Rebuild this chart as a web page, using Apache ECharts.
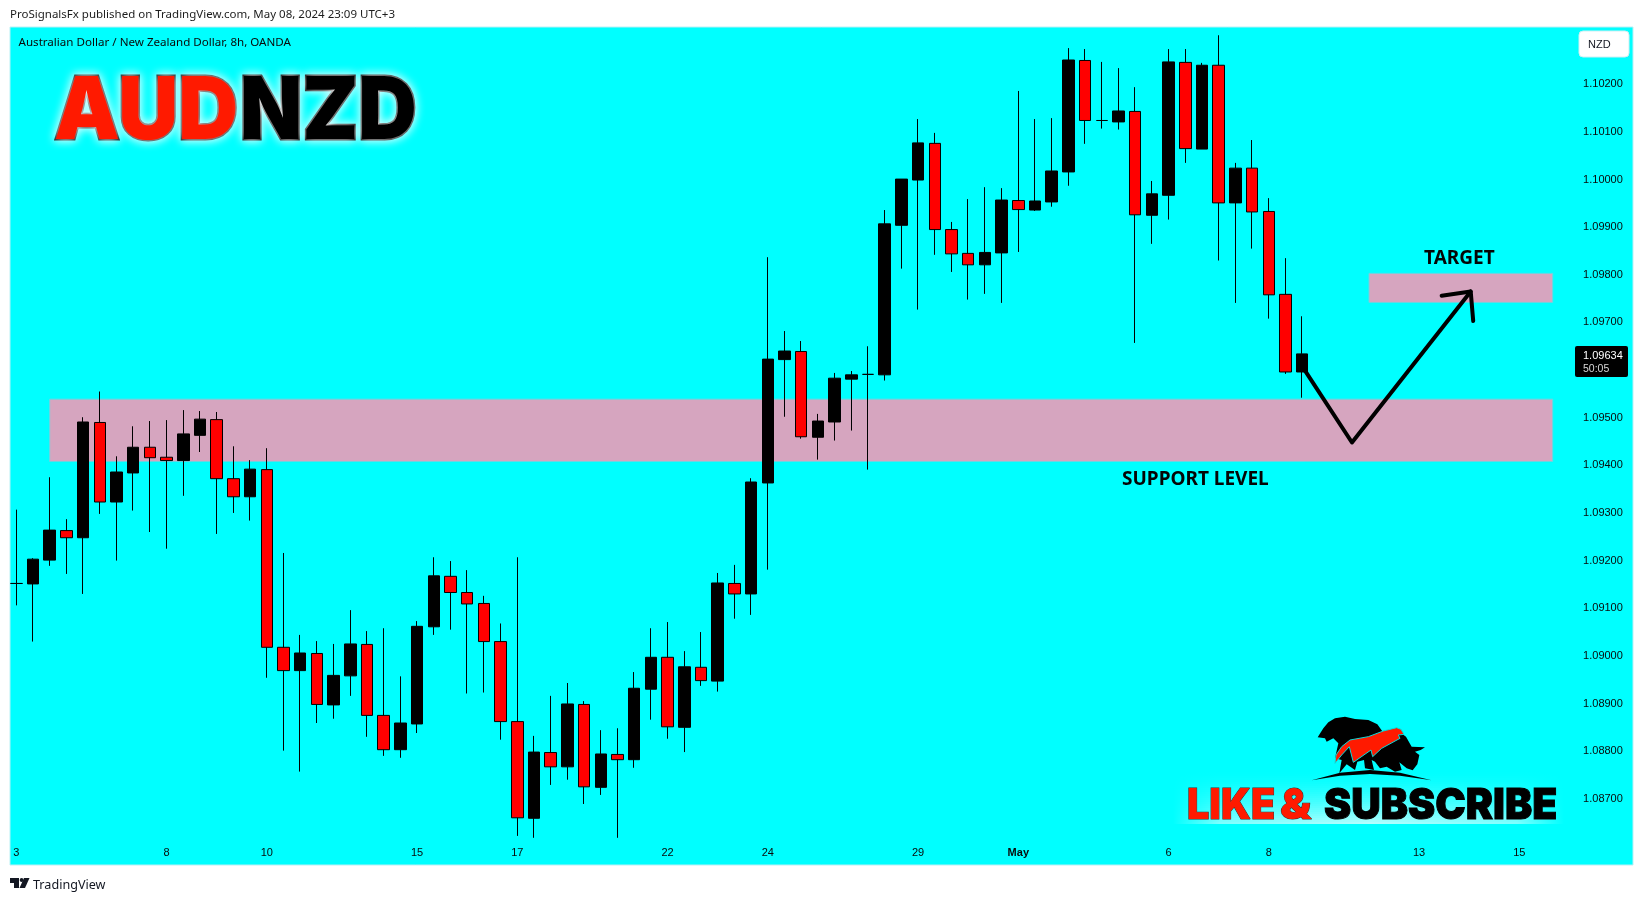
<!DOCTYPE html>
<html><head><meta charset="utf-8">
<style>html,body{margin:0;padding:0;background:#fff}#c{width:1643px;height:901px}</style>
<script src="https://cdn.jsdelivr.net/npm/echarts@6/dist/echarts.min.js"></script>
</head><body><div id="c"></div>
<script>
// Prices in 1/100000 units
const opens=[109152,109151,109201,109263,109248,109490,109323,109384,109438,109417,109410,109463,109496,109372,109334,109391,109018,108969,109005,108897,108958,109024,108875,108803,108857,109061,109167,109133,109110,109030,108862,108659,108797,108767,108898,108724,108793,108782,108930,108997,108850,108976,108947,109152,109130,109363,109622,109639,109459,109491,109581,109591,109590,109904,109999,110076,109895,109845,109821,109846,109956,109936,109953,110016,110250,110124,110121,110143,109925,109967,110246,110064,110240,109951,110024,109933,109759,109596];
const closes=[109152,109203,109264,109248,109491,109323,109386,109438,109416,109410,109466,109497,109372,109334,109392,109018,108969,109006,108898,108959,109025,108875,108803,108859,109062,109168,109133,109109,109030,108862,108660,108798,108767,108899,108725,108794,108782,108932,108997,108851,108977,108948,109153,109130,109365,109623,109640,109460,109493,109583,109590,109591,109907,110001,110077,109895,109844,109821,109847,109957,109937,109955,110018,110251,110124,110124,110144,109926,109970,110247,110065,110240,109951,110024,109932,109758,109596,109634];
const lows=[109106,109030,109189,109172,109130,109298,109200,109305,109260,109225,109336,109428,109256,109300,109284,108954,108801,108757,108859,108868,108916,108830,108790,108786,108838,109044,109055,108921,108923,108824,108622,108618,108729,108740,108689,108708,108618,108765,108866,108826,108798,108937,108925,109078,109086,109181,109502,109456,109412,109452,109473,109391,109578,109813,109727,109842,109806,109748,109760,109741,109848,109934,109943,109987,110075,110107,110105,109657,109865,109916,110035,110064,109830,109741,109855,109708,109592,109542];
const highs=[109307,109205,109375,109287,109501,109555,109419,109482,109493,109495,109516,109514,109512,109440,109411,109436,109216,109044,109031,109025,109096,109052,109058,108957,109073,109207,109199,109180,109126,109068,109207,108832,108916,108943,108905,108844,108848,108966,109058,109071,109010,109050,109174,109191,109373,109837,109682,109661,109508,109594,109598,109650,109936,110001,110127,110098,109911,109959,109984,109982,110186,110127,110129,110276,110274,110247,110234,110194,109997,110274,110274,110245,110303,110035,110083,109961,109835,109713];
const slotCount=97;
const dateTickIndex=[0,9,15,24,30,39,45,54,60,69,75,84,90];
const dateTickLabel=['3','8','10','15','17','22','24','29','May','6','8','13','15'];
const priceTicks=[1.102,1.101,1.1,1.099,1.098,1.097,1.095,1.094,1.093,1.092,1.091,1.09,1.089,1.088,1.087];
const supportZone=[1.09539,1.09408], supportFrom=2, supportTo=92;
const targetZone=[1.09803,1.09742], targetFrom=81, targetTo=92;
const pathX=[77.07,79.98,87.09], pathY=[1.09604,1.09448,1.09765];
const headX=[85.35,87.09,87.24], headY=[1.09756,1.09765,1.09703];
const lastPrice='1.09634', countdown='50:05';

const categories=Array.from({length:slotCount},(_,i)=>String(i));
const labelAt={};dateTickIndex.forEach((k,i)=>labelAt[k]=dateTickLabel[i]);
const candles=opens.map((o,i)=>[o/1e5,closes[i]/1e5,lows[i]/1e5,highs[i]/1e5]);
const zip=(a,b)=>a.map((v,i)=>[v,b[i]]);

const chart=echarts.init(document.getElementById('c'),null,{renderer:'canvas'});
const sans='"Noto Sans",sans-serif', tick='"Liberation Sans",Arial,sans-serif', heavy='Inter,"Liberation Sans",sans-serif';
const RED='#ff1a00', ZONE='#d6a5bf';
const arrowLine={type:'line',xAxisIndex:1,yAxisIndex:0,showSymbol:false,silent:true,z:6,
  lineStyle:{color:'#000',width:4,cap:'round',join:'round'},animation:false};
const poly=(pts,style,z)=>({type:'polygon',silent:true,z:z||50,shape:{points:pts},style});

// soft glow behind the subscribe banner, built from thin rows
const glow=[];
for(let r=0;r<26;r++){
  const a=0.7*Math.pow((r+1)/26,1.6);
  glow.push({type:'rect',silent:true,z:-9,shape:{x:1173,y:772+r*2,width:391,height:2},
    style:{fill:new echarts.graphic.LinearGradient(0,0,1,0,[{offset:0,color:'rgba(255,255,255,0)'},{offset:0.12,color:'rgba(255,255,255,'+a*0.7+')'},{offset:0.5,color:'rgba(255,255,255,'+a+')'},{offset:0.88,color:'rgba(255,255,255,'+a*0.7+')'},{offset:1,color:'rgba(255,255,255,0)'}])}});
}

chart.setOption({
  animation:false,
  backgroundColor:'#fff',
  grid:{left:7.95,right:15.15,top:27,bottom:36,containLabel:false},
  xAxis:[{type:'category',data:categories,boundaryGap:true,
    axisLine:{show:false},axisTick:{show:false},splitLine:{show:false},
    axisLabel:{inside:true,margin:7,interval:0,hideOverlap:false,color:'#0a0a0a',fontFamily:tick,fontSize:11,
      formatter:(v,i)=>{const t=labelAt[i];if(!t)return '';return t==='May'?'{b|May}':t;},
      rich:{b:{fontWeight:'bold',fontFamily:tick,fontSize:11,color:'#0a0a0a'}}}},
    {type:'value',min:-0.5,max:slotCount-0.5,show:false}],
  yAxis:[{type:'value',position:'right',min:1.085609,max:1.103203,scale:true,
    axisLine:{show:false},axisTick:{show:false},splitLine:{show:false},
    axisLabel:{inside:true,margin:5,color:'#0a0a0a',fontFamily:tick,fontSize:11,
      customValues:priceTicks,formatter:v=>v.toFixed(5)}}],
  series:[
    {type:'line',data:[],z:1,silent:true,
      markArea:{silent:true,z:1,itemStyle:{color:ZONE,borderColor:'#6fd3e0',borderWidth:1},label:{show:false},
        data:[[{xAxis:supportFrom,yAxis:supportZone[0]},{xAxis:supportTo,yAxis:supportZone[1]}],
              [{xAxis:targetFrom,yAxis:targetZone[0]},{xAxis:targetTo,yAxis:targetZone[1]}]]}},
    {type:'candlestick',data:candles,barWidth:12,z:3,silent:true,clip:false,
      itemStyle:{color:'#000',color0:'#ff0000',borderColor:'#000',borderColor0:'#000',borderWidth:1}},
    Object.assign({},arrowLine,{data:zip(pathX,pathY)}),
    Object.assign({},arrowLine,{data:zip(headX,headY)})
  ],
  graphic:[
    {type:'rect',silent:true,z:-10,shape:{x:10,y:27,width:1623,height:838},style:{fill:'#00ffff',stroke:'#b8f0f5',lineWidth:1}},
    ...glow,
    {type:'text',silent:true,z:50,style:{x:10,y:15,text:'ProSignalsFx published on TradingView.com, May 08, 2024 23:09 UTC+3',font:'11.5px '+sans,fill:'#1c1c1c',verticalAlign:'middle'}},
    {type:'text',silent:true,z:50,style:{x:18.5,y:42.5,text:'Australian Dollar / New Zealand Dollar, 8h, OANDA',font:'11.6px '+sans,fill:'#0a0a0a',verticalAlign:'middle'}},
    {type:'text',silent:true,z:49,x:54,y:113,scaleX:0.965,style:{x:0,y:0,text:'AUD',font:'900 86px '+heavy,fill:RED,stroke:'#111',lineWidth:3,lineJoin:'round',verticalAlign:'middle',textShadowColor:'#fff',textShadowBlur:10}},
    {type:'text',silent:true,z:49,x:240,y:113,scaleX:0.94,style:{x:0,y:0,text:'NZD',font:'900 86px '+heavy,fill:'#000',stroke:'#000',lineWidth:3,lineJoin:'round',verticalAlign:'middle',textShadowColor:'#fff',textShadowBlur:10}},
    {type:'text',silent:true,z:50,style:{x:1122,y:480,text:'SUPPORT LEVEL',font:'bold 19px '+sans,fill:'#050505',verticalAlign:'middle'}},
    {type:'text',silent:true,z:50,style:{x:1424,y:259,text:'TARGET',font:'bold 19px '+sans,fill:'#050505',verticalAlign:'middle'}},
    {type:'rect',silent:true,z:50,shape:{x:1579,y:31,width:50,height:26,r:4},style:{fill:'#fff',stroke:'#cfeff3',lineWidth:1}},
    {type:'text',silent:true,z:51,style:{x:1588,y:45,text:'NZD',font:'11px '+tick,fill:'#131722',verticalAlign:'middle'}},
    {type:'rect',silent:true,z:50,shape:{x:1575,y:346,width:53,height:31,r:2},style:{fill:'#000'}},
    {type:'text',silent:true,z:51,style:{x:1583,y:355.5,text:lastPrice,font:'11px '+tick,fill:'#fff',verticalAlign:'middle'}},
    {type:'text',silent:true,z:51,style:{x:1583,y:369.5,text:countdown,font:'10.5px '+tick,fill:'#d8d8d8',verticalAlign:'middle'}},
    {type:'text',silent:true,z:50,style:{x:33,y:885.5,text:'TradingView',font:'12.6px '+sans,fill:'#131722',verticalAlign:'middle'}},
    poly([[10,878],[19,878],[19,888],[14,888],[14,883],[10,883]],{fill:'#131722'}),
    {type:'circle',silent:true,z:50,shape:{cx:21.6,cy:880,r:1.9},style:{fill:'#131722'}},
    poly([[24,878],[29.5,878],[25,888],[19.5,888]],{fill:'#131722'}),
    {type:'text',silent:true,z:50,x:1187,y:806.5,scaleX:0.92,style:{x:0,y:0,text:'LIKE',font:'900 43px '+heavy,fill:RED,stroke:'#333',lineWidth:1,verticalAlign:'middle'}},
    {type:'text',silent:true,z:50,x:1280,y:806.5,scaleX:1.05,style:{x:0,y:0,text:'&',font:'900 43px '+heavy,fill:RED,stroke:'#333',lineWidth:1,verticalAlign:'middle'}},
    {type:'text',silent:true,z:50,x:1324,y:806.5,scaleX:0.95,style:{x:0,y:0,text:'SUBSCRIBE',font:'900 43px '+heavy,fill:'#000',stroke:'#000',lineWidth:1,verticalAlign:'middle'}},
    {type:'group',silent:true,x:1300,y:705,scaleX:1/3,scaleY:1/3,children:[
      poly([[53,97],[70,70],[85,52],[105,40],[135,35],[165,42],[205,45],[232,58],[248,80],[262,75],[300,82],[318,95],[335,125],[375,127],[362,135],[345,140],[358,150],[352,178],[338,196],[320,190],[298,172],[305,195],[285,200],[260,185],[240,190],[225,170],[215,165],[222,195],[195,190],[192,165],[172,170],[165,195],[140,178],[118,205],[125,165],[105,160],[115,115],[100,100],[80,110],[75,100]],{fill:'#000'},50),
      poly([[105,175],[108,150],[125,125],[150,105],[205,95],[250,78],[290,68],[303,73],[312,88],[295,90],[300,100],[245,130],[218,155],[213,135],[160,172],[148,125],[125,150]],{fill:RED,stroke:'#10d8d8',lineWidth:3},51),
      poly([[35,226],[120,203],[210,195],[300,203],[395,226],[300,212],[210,207],[120,212]],{fill:'#000'},51)
    ]}
  ]
});
</script></body></html>
